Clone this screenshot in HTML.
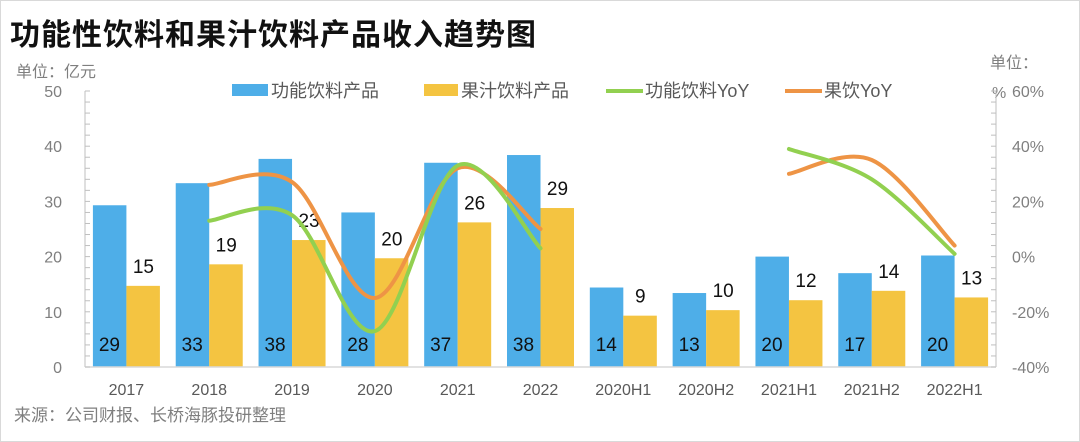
<!DOCTYPE html>
<html><head><meta charset="utf-8"><style>
body{margin:0;background:#fff}
svg{display:block;font-family:"Liberation Sans","Noto Sans CJK SC",sans-serif}
</style></head><body>
<svg id="s" width="1080" height="442" xmlns="http://www.w3.org/2000/svg">
<rect x="0.5" y="0.5" width="1079" height="441" fill="#fff" stroke="#d9d9d9"/>
<text x="10" y="45" font-size="30" font-weight="bold" fill="#111" letter-spacing="1">功能性饮料和果汁饮料产品收入趋势图</text>
<text x="16" y="77" font-size="16" fill="#7f7f7f">单位：亿元</text>
<text x="990" y="68" font-size="16" fill="#7f7f7f">单位：</text>
<text x="992" y="98" font-size="16" fill="#7f7f7f">%</text>
<g id="g"></g>
<text x="14" y="421" font-size="17" fill="#7f7f7f">来源：公司财报、长桥海豚投研整理</text>
<rect x="232" y="84" width="36" height="12" fill="#4eaee8"/><text x="271" y="97" font-size="18" fill="#595959">功能饮料产品</text>
<rect x="424" y="84" width="34" height="12" fill="#f4c441"/><text x="461" y="97" font-size="18" fill="#595959">果汁饮料产品</text>
<line x1="606" y1="91" x2="643" y2="91" stroke="#92d050" stroke-width="4"/><text x="645" y="97" font-size="18" fill="#595959">功能饮料YoY</text>
<line x1="785" y1="91" x2="822" y2="91" stroke="#ee9445" stroke-width="4"/><text x="824" y="97" font-size="18" fill="#595959">果饮YoY</text>
</svg>
<script>
var g=document.getElementById('g'),h='';
var L=85,R=996,T=91,B=367,W=(R-L)/11;
function y1(v){return B-v*(B-T)/50}
function y2(p){return B-(p+40)*(B-T)/100}
var cats=['2017','2018','2019','2020','2021','2022','2020H1','2020H2','2021H1','2021H2','2022H1'];
var bl=[29.3,33.3,37.7,28,37,38.4,14.4,13.4,20,17,20.2],yl=[14.7,18.6,23,19.7,26.2,28.8,9.3,10.3,12.1,13.8,12.6];
var bt=[29,33,38,28,37,38,14,13,20,17,20],yt=[15,19,23,20,26,29,9,10,12,14,13];
for(var i=0;i<11;i++){var c=L+W*(i+0.5);
h+='<rect x="'+(c-33.5)+'" y="'+y1(bl[i])+'" width="33.5" height="'+(B-y1(bl[i]))+'" fill="#4eaee8"/>';
h+='<rect x="'+c+'" y="'+y1(yl[i])+'" width="33.5" height="'+(B-y1(yl[i]))+'" fill="#f4c441"/>';
h+='<text x="'+(c-17)+'" y="351" font-size="19" text-anchor="middle" fill="#111">'+bt[i]+'</text>';
h+='<text x="'+(c+17)+'" y="'+(y1(yl[i])-13)+'" font-size="19" text-anchor="middle" fill="#111">'+yt[i]+'</text>';
h+='<text x="'+c+'" y="395" font-size="16" text-anchor="middle" fill="#595959">'+cats[i]+'</text>';}
h+='<line x1="'+L+'" y1="'+T+'" x2="'+L+'" y2="'+B+'" stroke="#bfbfbf"/><line x1="'+R+'" y1="'+T+'" x2="'+R+'" y2="'+B+'" stroke="#bfbfbf"/><line x1="'+L+'" y1="'+B+'" x2="'+R+'" y2="'+B+'" stroke="#d9d9d9" stroke-width="1.5"/>';
for(var k=0;k<=25;k++){var yy=T+k*(B-T)/25;h+='<line x1="'+L+'" y1="'+yy+'" x2="'+(L+5)+'" y2="'+yy+'" stroke="#bfbfbf"/><line x1="'+(R-5)+'" y1="'+yy+'" x2="'+R+'" y2="'+yy+'" stroke="#bfbfbf"/>';}
for(var v=0;v<=50;v+=10)h+='<text x="62" y="'+(y1(v)+6)+'" font-size="16" text-anchor="end" fill="#7f7f7f">'+v+'</text>';
for(var p=-40;p<=60;p+=20)h+='<text x="1012" y="'+(y2(p)+6)+'" font-size="16" fill="#7f7f7f">'+p+'%</text>';
function sm(pts,col){var d='M'+pts[0][0]+','+pts[0][1];for(var i=0;i<pts.length-1;i++){var p0=pts[i-1]||pts[i],p1=pts[i],p2=pts[i+1],p3=pts[i+2]||p2;
d+=' C'+(p1[0]+(p2[0]-p0[0])/6)+','+(p1[1]+(p2[1]-p0[1])/6)+' '+(p2[0]-(p3[0]-p1[0])/6)+','+(p2[1]-(p3[1]-p1[1])/6)+' '+p2[0]+','+p2[1];}
return '<path d="'+d+'" fill="none" stroke="'+col+'" stroke-width="4" stroke-linecap="round"/>';}
function P(arr,st){return arr.map(function(v,j){return [L+W*(st+j+0.5),y2(v)]})}
h+=sm(P([26,27,-15,32,10],1),'#ee9445');
h+=sm(P([13,15,-27,33,3],1),'#92d050');
h+=sm(P([30,35,4],8),'#ee9445');
h+=sm(P([39,28,1],8),'#92d050');
g.innerHTML=h;
</script>
</body></html>
